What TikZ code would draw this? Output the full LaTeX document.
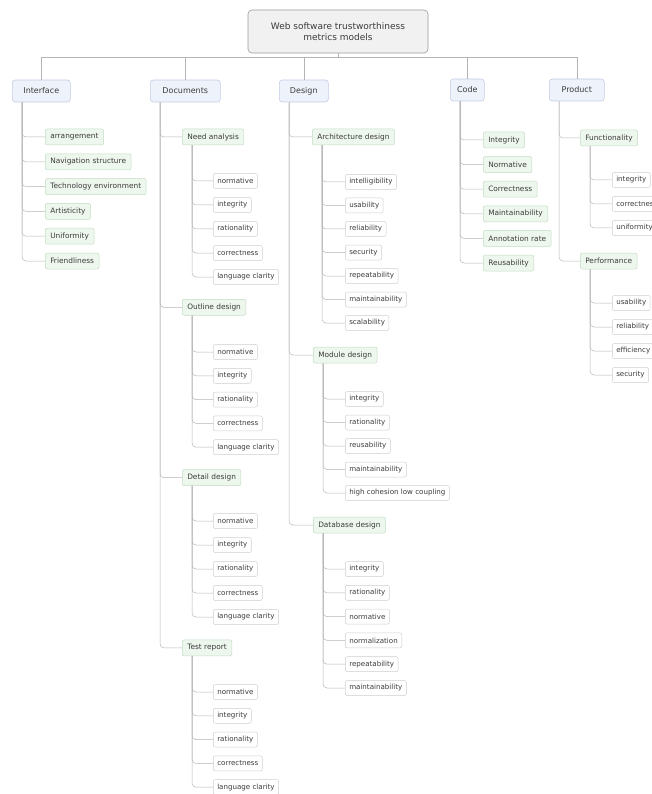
\documentclass[tikz,border=0pt]{standalone}
\usepackage{fontspec}
\setmainfont{DejaVu Sans}
\usetikzlibrary{positioning}

\definecolor{linegray}{HTML}{B4B4B4}
\definecolor{rootline}{HTML}{9A9A9A}
\definecolor{rootfill}{HTML}{F1F1F1}
\definecolor{topline}{HTML}{C3CCE3}
\definecolor{topfill}{HTML}{EEF2FB}
\definecolor{subline}{HTML}{C2DCC2}
\definecolor{subfill}{HTML}{EEF7EE}
\definecolor{leafline}{HTML}{CFCFCF}
\definecolor{textgray}{HTML}{3C3C3C}

\tikzset{
  rootbox/.style={draw=rootline, fill=rootfill, rounded corners=4pt, align=center, text=textgray,
    font=\fontsize{9}{11.5}\selectfont, minimum width=180, minimum height=43, line width=0.6pt},
  topbox/.style={draw=topline, fill=topfill, rounded corners=3pt, text=textgray,
    font=\fontsize{8}{9.5}\selectfont, minimum height=22, anchor=west, line width=0.6pt},
  subbox/.style={draw=subline, fill=subfill, rounded corners=2pt, text=textgray,
    font=\fontsize{7.4}{8.5}\selectfont, minimum height=16, inner xsep=5pt, line width=0.5pt},
  leafbox/.style={draw=leafline, fill=white, rounded corners=2pt, text=textgray,
    font=\fontsize{7.1}{8}\selectfont, minimum height=15, inner xsep=4pt, line width=0.5pt},
  link/.style={draw=linegray, line width=0.5pt, rounded corners=4pt},
  buslink/.style={draw=linegray, line width=0.6pt}
}

\newcommand{\branch}[6]{%
  \foreach \lbl [count=\i] in {#6} {
    \node[#1, anchor=west] (#2-\i) at (#3, {#4+#5*(\i-1)}) {\lbl};
    \draw[link] ([xshift=10]#2.south west) |- (#2-\i.west);
  }}

\begin{document}
\begin{tikzpicture}[x=1pt, y=-1pt]

\useasboundingbox (0,0) rectangle (652,794);
\clip (0,0) rectangle (652,794);

\node[rootbox] (root) at (338,31.5) {Web software trustworthiness\\metrics models};

\node[topbox, minimum width=58] (iface) at (12,91) {Interface};
\node[topbox, minimum width=70] (docs) at (150,91) {Documents};
\node[topbox, minimum width=49] (design) at (279,91) {Design};
\node[topbox, minimum width=34] (code) at (450,90) {Code};
\node[topbox, minimum width=55] (product) at (549,90) {Product};

\foreach \n in {iface,docs,design,code,product}
  \draw[buslink] (root.south) -- ++(0,4) -| (\n.north);

\branch{subbox}{iface}{45}{137}{24.8}{arrangement, Navigation structure, Technology environment, Artisticity, Uniformity, Friendliness}

\branch{subbox}{docs}{182}{137}{170.3}{Need analysis, Outline design, Detail design, Test report}
\branch{leafbox}{docs-1}{213}{181}{24}{normative, integrity, rationality, correctness, language clarity}
\branch{leafbox}{docs-2}{213}{352}{23.8}{normative, integrity, rationality, correctness, language clarity}
\branch{leafbox}{docs-3}{213}{521}{24}{normative, integrity, rationality, correctness, language clarity}
\branch{leafbox}{docs-4}{213}{692}{23.8}{normative, integrity, rationality, correctness, language clarity}

\node[subbox, anchor=west] (arch) at (312,137) {Architecture design};
\node[subbox, anchor=west] (module) at (313,355) {Module design};
\node[subbox, anchor=west] (dbase) at (313,525) {Database design};
\foreach \n in {arch,module,dbase}
  \draw[link] ([xshift=10]design.south west) |- (\n.west);

\branch{leafbox}{arch}{345}{182}{23.5}{intelligibility, usability, reliability, security, repeatability, maintainability, scalability}
\branch{leafbox}{module}{345}{399}{23.5}{integrity, rationality, reusability, maintainability, high cohesion low coupling}
\branch{leafbox}{dbase}{345}{569}{23.8}{integrity, rationality, normative, normalization, repeatability, maintainability}

\branch{subbox}{code}{483}{140}{24.6}{Integrity, Normative, Correctness, Maintainability, Annotation rate, Reusability}

\node[subbox, anchor=west] (func) at (580,138) {Functionality};
\node[subbox, anchor=west] (perf) at (580,261) {Performance};
\foreach \n in {func,perf}
  \draw[link] ([xshift=10]product.south west) |- (\n.west);

\branch{leafbox}{func}{612}{180}{24}{integrity, correctness, uniformity}
\branch{leafbox}{perf}{612}{303}{24}{usability, reliability, efficiency, security}

\end{tikzpicture}
\end{document}
